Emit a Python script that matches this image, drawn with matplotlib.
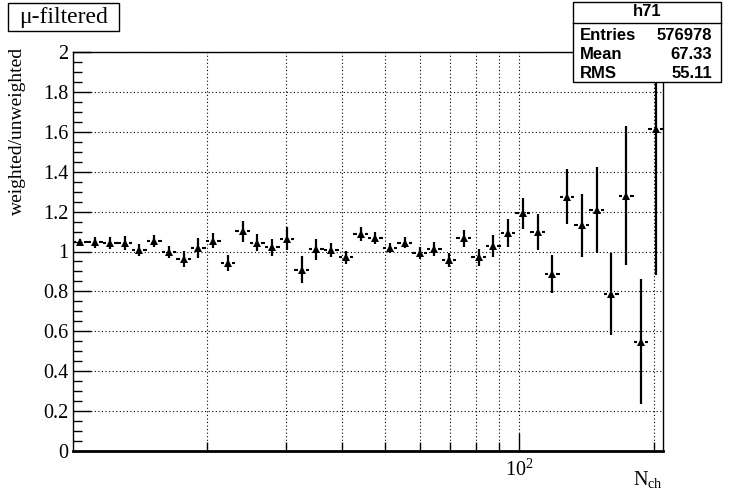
import numpy as np
import matplotlib
matplotlib.use("Agg")
import matplotlib.pyplot as plt
from matplotlib.patches import Rectangle
from matplotlib.lines import Line2D
from matplotlib.ticker import FixedLocator, FuncFormatter, MultipleLocator

# ---- data ----
x_min, x_max, n_bins = 10.0, 210.0, 40
ratio = [1.047, 1.047, 1.044, 1.044, 1.006, 1.054, 0.996, 0.961, 1.016, 1.054,
         0.944, 1.101, 1.044, 1.021, 1.064, 0.909, 1.011, 1.008, 0.971, 1.089,
         1.066, 1.019, 1.044, 0.994, 1.011, 0.957, 1.066, 0.971, 1.028, 1.094,
         1.191, 1.099, 0.887, 1.275, 1.131, 1.208, 0.785, 1.280, 0.548, 1.612]
ratio_err = [0.015, 0.028, 0.030, 0.035, 0.030, 0.030, 0.030, 0.040, 0.050, 0.037,
             0.040, 0.054, 0.042, 0.042, 0.057, 0.069, 0.052, 0.037, 0.032, 0.035,
             0.030, 0.025, 0.027, 0.030, 0.035, 0.036, 0.042, 0.044, 0.057, 0.071,
             0.078, 0.089, 0.094, 0.139, 0.159, 0.214, 0.205, 0.348, 0.313, 0.730]
y_ticks = [0, 0.2, 0.4, 0.6, 0.8, 1.0, 1.2, 1.4, 1.6, 1.8, 2.0]
x_minor_ticks = [20, 30, 40, 50, 60, 70, 80, 90, 200]
x_major_ticks = [100]
title_text = "\u03bc-filtered"
y_label = "weighted/unweighted"
x_label = r"N$_{\mathrm{ch}}$"
stats_name = "h71"
stats_rows = [("Entries", "576978"), ("Mean", "67.33"), ("RMS", "55.11")]

# ---- style ----
plt.rcParams["font.family"] = ["Liberation Serif", "DejaVu Serif"]
plt.rcParams["mathtext.fontset"] = "custom"
plt.rcParams["mathtext.rm"] = "Liberation Serif"
plt.rcParams["mathtext.it"] = "Liberation Serif:italic"

W, H = 735, 500
fig = plt.figure(figsize=(W / 100, H / 100), dpi=100)
fig.patch.set_facecolor("white")
L, R, T, B = 73, 663, 52, 451
ax = fig.add_axes([L / W, 1 - B / H, (R - L) / W, (B - T) / H])

edges = np.logspace(np.log10(x_min), np.log10(x_max), n_bins + 1)
lo, hi = edges[:-1], edges[1:]
centers = np.sqrt(lo * hi)
y = np.array(ratio)
ey = np.array(ratio_err)

# horizontal error bars with a gap around the marker (ROOT style)
gap = (hi / lo) ** 0.27
ax.hlines(y, lo, centers / gap, colors="black", lw=1.5, zorder=3)
ax.hlines(y, centers * gap, hi, colors="black", lw=1.5, zorder=3)
ax.vlines(centers, y - ey, y + ey, colors="black", lw=1.6, zorder=3)
ax.plot(centers, y, linestyle="none", marker="^", ms=6, color="black",
        markeredgewidth=0, zorder=4)

ax.set_xscale("log")
ax.set_xlim(x_min, x_max)
ax.set_ylim(0, 2)

ax.xaxis.set_major_locator(FixedLocator(x_major_ticks))
ax.xaxis.set_minor_locator(FixedLocator(x_minor_ticks))
ax.xaxis.set_major_formatter(FuncFormatter(lambda v, p: r"10$^{%d}$" % int(round(np.log10(v)))))
ax.xaxis.set_minor_formatter(FuncFormatter(lambda v, p: ""))
ax.yaxis.set_major_locator(FixedLocator(y_ticks))
ax.yaxis.set_minor_locator(MultipleLocator(0.05))
ax.yaxis.set_major_formatter(FuncFormatter(lambda v, p: "%g" % round(v, 2)))

ax.tick_params(axis="both", which="both", direction="in", top=False, right=False,
               color="black", width=1)
ax.tick_params(axis="y", which="major", length=13, labelsize=14.5, pad=3.5)
ax.tick_params(axis="y", which="minor", length=6.5)
ax.tick_params(axis="x", which="major", length=13, labelsize=14.5, pad=6)
ax.tick_params(axis="x", which="minor", length=6.5)

grid_kw = dict(color="black", linestyle=(0, (1, 2.2)), linewidth=0.8)
ax.grid(True, which="major", axis="both", **grid_kw)
ax.grid(True, which="minor", axis="x", **grid_kw)
ax.set_axisbelow(True)

for s in ["left", "right", "top"]:
    ax.spines[s].set_linewidth(1.0)
ax.spines["bottom"].set_linewidth(2.0)

# axis labels (ROOT places them at the end of the axes)
fig.text(17 / W, 1 - 131 / H, y_label, rotation=90, ha="center", va="center",
         fontsize=14)
fig.text(663 / W, 1 - 479 / H, x_label, ha="right", va="center", fontsize=14.5)

# title box
tx0, tx1, ty0, ty1 = 8, 119, 3, 31
fig.add_artist(Rectangle((tx0 / W, 1 - ty1 / H), (tx1 - tx0) / W, (ty1 - ty0) / H,
                         transform=fig.transFigure, fc="white", ec="black", lw=1,
                         zorder=10))
fig.text((tx0 + tx1) / 2 / W, 1 - 17.5 / H, title_text, ha="center", va="center",
         fontsize=17, zorder=11)

# stats box
bx0, bx1, by0, by1 = 573, 721, 2, 82
fig.add_artist(Rectangle((bx0 / W, 1 - by1 / H), (bx1 - bx0) / W, (by1 - by0) / H,
                         transform=fig.transFigure, fc="white", ec="black", lw=1,
                         zorder=10))
fig.add_artist(Line2D([bx0 / W, bx1 / W], [1 - 22.5 / H, 1 - 22.5 / H],
                      transform=fig.transFigure, color="black", lw=1, zorder=11))
sfont = dict(family=["Liberation Sans", "DejaVu Sans"], fontweight="bold",
             fontsize=12, zorder=12)
fig.text((bx0 + bx1) / 2 / W, 1 - 12 / H, stats_name, ha="center", va="center", **sfont)
for i, (k, v) in enumerate(stats_rows):
    yy = 1 - (35 + 19.5 * i) / H
    fig.text(580 / W, yy, k, ha="left", va="center", **sfont)
    fig.text(712 / W, yy, v, ha="right", va="center", **sfont)

fig.savefig("out.png", dpi=100, facecolor="white")
